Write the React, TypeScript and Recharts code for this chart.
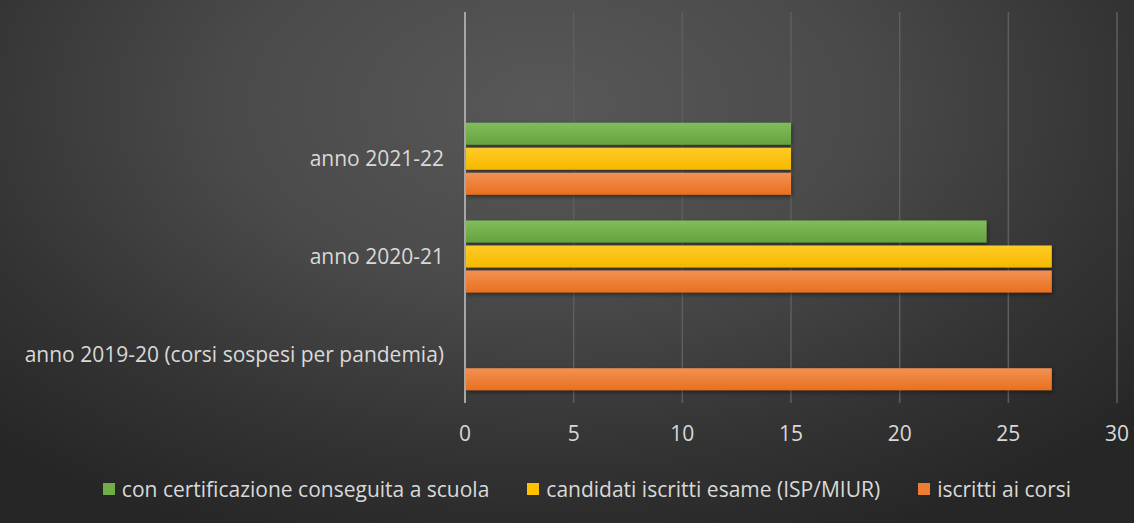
import React from 'react';
import { BarChart, Bar, XAxis, YAxis, CartesianGrid, Legend } from 'recharts';

const categories = ['', 'anno 2021-22', 'anno 2020-21', 'anno 2019-20 (corsi sospesi per pandemia)'];
const certificazione = [null, 15, 24, 0];
const candidati = [null, 15, 27, 0];
const iscritti = [null, 15, 27, 27];
const xTicks = [0, 5, 10, 15, 20, 25, 30];

const seriesKeys = ['cert', 'cand', 'iscr'];
const seriesNames: Record<string, string> = {
  cert: 'con certificazione conseguita a scuola',
  cand: 'candidati iscritti esame (ISP/MIUR)',
  iscr: 'iscritti ai corsi',
};
const colors: Record<string, string> = { cert: '#70AD47', cand: '#FFC000', iscr: '#ED7D31' };

const data = categories.map((c, i) => ({
  name: c,
  cert: certificazione[i],
  cand: candidati[i],
  iscr: iscritti[i],
}));

const FONT = '"Open Sans", sans-serif';
const TEXT = '#d9d9d9';
const FS = 21;

const BarShape = (props: any) => {
  const { x, y, width, height, dataKey } = props;
  if (!width || width <= 0) return null;
  return (
    <rect x={x} y={y} width={width} height={height} fill={`url(#grad-${dataKey})`} filter="url(#barShadow)" />
  );
};

const LegendContent = () => {
  return (
    <div style={{ display: 'flex', justifyContent: 'center', fontFamily: FONT, fontSize: FS, color: TEXT, lineHeight: '30px', height: 30 }}>
      {seriesKeys.map((k, i) => (
        <div key={k} style={{ display: 'flex', alignItems: 'center', marginRight: i < seriesKeys.length - 1 ? 38 : 0 }}>
          <span style={{ width: 12, height: 12, background: colors[k], display: 'inline-block', marginRight: 7 }} />
          <span>{seriesNames[k]}</span>
        </div>
      ))}
    </div>
  );
};

export default function App() {
  return (
    <div
      style={{
        position: 'absolute',
        left: 0,
        top: 0,
        width: 1134,
        height: 523,
        background: 'radial-gradient(ellipse 70% 90% at 48% 20%, #585858 0%, #4a4a4a 40%, #333333 75%, #262626 100%)',
      }}
    >
      <BarChart
        width={1134}
        height={523}
        layout="vertical"
        data={data}
        margin={{ top: 12, right: 17, bottom: 70, left: 0 }}
        barSize={22}
        barGap={3}
      >
        <defs>
          <linearGradient id="grad-cert" x1="0" y1="0" x2="0" y2="1">
            <stop offset="0%" stopColor="#81bd59" />
            <stop offset="100%" stopColor="#66a23e" />
          </linearGradient>
          <linearGradient id="grad-cand" x1="0" y1="0" x2="0" y2="1">
            <stop offset="0%" stopColor="#ffcb26" />
            <stop offset="100%" stopColor="#f5b800" />
          </linearGradient>
          <linearGradient id="grad-iscr" x1="0" y1="0" x2="0" y2="1">
            <stop offset="0%" stopColor="#f39152" />
            <stop offset="100%" stopColor="#e8701f" />
          </linearGradient>
          <filter id="barShadow" x="-5%" y="-20%" width="110%" height="160%">
            <feDropShadow dx="1" dy="2" stdDeviation="2" floodColor="#000" floodOpacity="0.45" />
          </filter>
        </defs>
        <CartesianGrid horizontal={false} stroke="#5e5e5e" strokeWidth={1.5} />
        <XAxis
          type="number"
          domain={[0, 30]}
          ticks={xTicks}
          axisLine={false}
          tickLine={false}
          tickMargin={17}
          height={50}
          tick={{ fill: TEXT, fontSize: FS, fontFamily: FONT }}
        />
        <YAxis
          type="category"
          dataKey="name"
          width={465}
          axisLine={{ stroke: '#a6a6a6', strokeWidth: 2 }}
          tickLine={false}
          tickMargin={15}
          tick={{ fill: TEXT, fontSize: FS, fontFamily: FONT }}
        />
        <Legend
          verticalAlign="middle"
          align="center"
          wrapperStyle={{ top: 474, left: 20, width: 1134 }}
          content={<LegendContent />}
        />
        <Bar dataKey="cert" name={seriesNames.cert} fill={colors.cert} isAnimationActive={false} shape={<BarShape dataKey="cert" />} />
        <Bar dataKey="cand" name={seriesNames.cand} fill={colors.cand} isAnimationActive={false} shape={<BarShape dataKey="cand" />} />
        <Bar dataKey="iscr" name={seriesNames.iscr} fill={colors.iscr} isAnimationActive={false} shape={<BarShape dataKey="iscr" />} />
      </BarChart>
    </div>
  );
}
